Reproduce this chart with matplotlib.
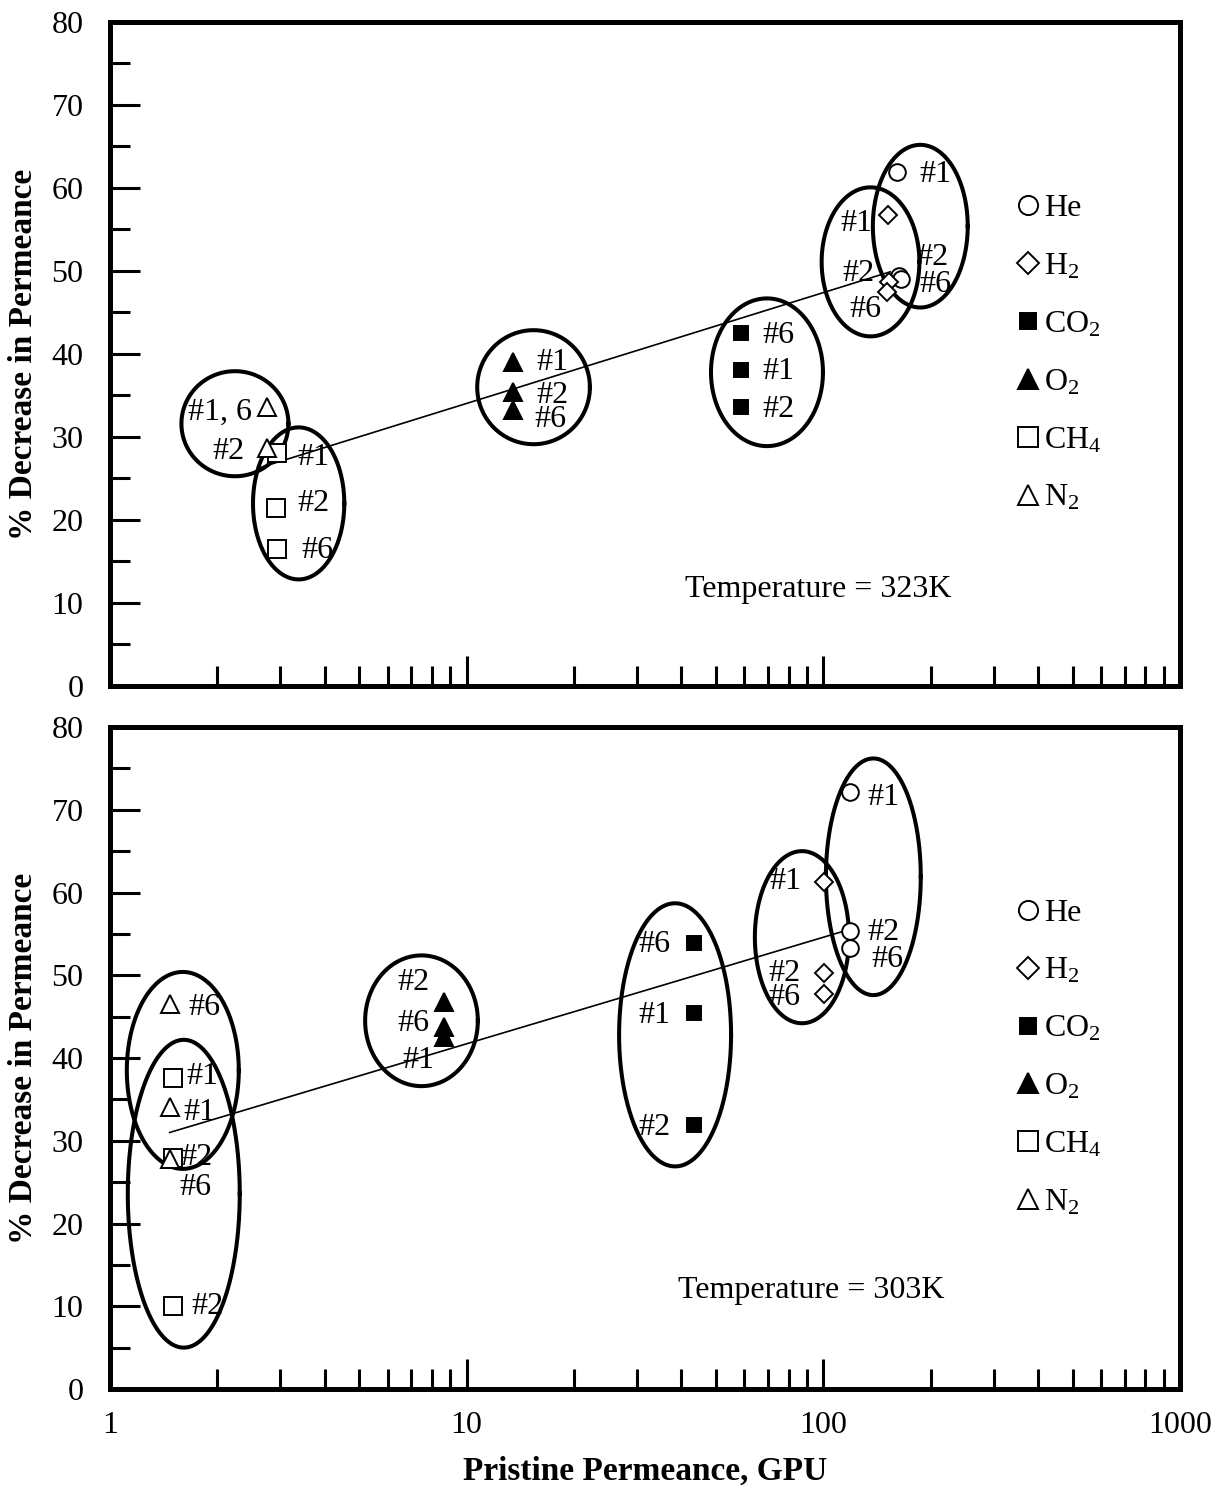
import numpy as np
import matplotlib.pyplot as plt
from matplotlib.ticker import MultipleLocator, LogLocator, FixedFormatter, FixedLocator, NullFormatter

plt.rcParams['font.family'] = ['Liberation Serif', 'DejaVu Serif']
plt.rcParams['mathtext.fontset'] = 'custom'
plt.rcParams['mathtext.rm'] = 'Liberation Serif'
plt.rcParams['mathtext.it'] = 'Liberation Serif:italic'
plt.rcParams['mathtext.bf'] = 'Liberation Serif:bold'

FS = 23

# ---- 323 K (top panel): pristine permeance (GPU) and % decrease ----
he_323_gpu = [161, 163, 165]
he_323_pct = [61.9, 49.4, 49.0]
he_323_ids = ['#1', '#2', '#6']
h2_323_gpu = [152, 153, 151]
h2_323_pct = [56.8, 48.7, 47.5]
h2_323_ids = ['#1', '#2', '#6']
co2_323_gpu = [58.7, 58.7, 58.7]
co2_323_pct = [42.5, 38.1, 33.6]
co2_323_ids = ['#6', '#1', '#2']
o2_323_gpu = [13.5, 13.5, 13.5]
o2_323_pct = [39.0, 35.4, 33.3]
o2_323_ids = ['#1', '#2', '#6']
ch4_323_gpu = [2.94, 2.92, 2.94]
ch4_323_pct = [28.1, 21.4, 16.5]
ch4_323_ids = ['#1', '#2', '#6']
n2_323_gpu = [2.75, 2.75]
n2_323_pct = [33.6, 28.7]
n2_323_ids = ['#1, 6', '#2']

trend_323_gpu = [2.63, 154]
trend_323_pct = [26.3, 49.9]

# ---- 303 K (bottom panel) ----
he_303_gpu = [118.8, 118.8, 118.8]
he_303_pct = [72.1, 55.3, 53.3]
he_303_ids = ['#1', '#2', '#6']
h2_303_gpu = [100.4, 100.4, 100.4]
h2_303_pct = [61.3, 50.3, 47.7]
h2_303_ids = ['#1', '#2', '#6']
co2_303_gpu = [43.4, 43.4, 43.4]
co2_303_pct = [53.9, 45.4, 31.9]
co2_303_ids = ['#6', '#1', '#2']
o2_303_gpu = [8.64, 8.64, 8.64]
o2_303_pct = [46.8, 43.8, 42.5]
o2_303_ids = ['#2', '#6', '#1']
ch4_303_gpu = [1.50, 1.50, 1.50]
ch4_303_pct = [37.6, 27.9, 10.0]
ch4_303_ids = ['#1', '#2', '#2']
n2_303_gpu = [1.47, 1.47, 1.47]
n2_303_pct = [46.5, 34.1, 27.8]
n2_303_ids = ['#6', '#1', '#6']

trend_303_gpu = [1.47, 113.5]
trend_303_pct = [31.0, 55.3]

# group ellipses: centre (GPU, %), half-width (decades), half-height (%)
ell_323_gpu = [2.24, 3.38, 15.4, 69.5, 135.6, 187]
ell_323_pct = [31.6, 22.0, 36.0, 37.8, 51.1, 55.4]
ell_323_hw = [0.150, 0.128, 0.158, 0.157, 0.137, 0.133]
ell_323_hh = [6.33, 9.16, 6.87, 8.9, 8.98, 9.8]
ell_303_gpu = [1.60, 1.61, 7.47, 38.4, 87.1, 138.1]
ell_303_pct = [38.5, 23.6, 44.5, 42.8, 54.6, 61.9]
ell_303_hw = [0.157, 0.157, 0.158, 0.157, 0.132, 0.133]
ell_303_hh = [11.9, 18.6, 7.9, 15.9, 10.4, 14.3]

# label offsets in pixels (right, up)
off_323 = {
    'He': [(38, -2), (33, 18), (35, -5)],
    'H2': [(-32, -9), (-31, 8), (-22, -18)],
    'CO2': [(38, -2), (38, -2), (38, -2)],
    'O2': [(39, 0), (39, -3), (37, -10)],
    'CH4': [(36, -5), (37, 5), (40, -1)],
    'N2': [(-47, -5), (-38, -4)],
}
off_303 = {
    'He': [(33, -5), (33, -1), (37, -12)],
    'H2': [(-39, 0), (-40, -1), (-40, -3)],
    'CO2': [(-40, -2), (-40, -2), (-40, -2)],
    'O2': [(-31, 19), (-31, 3), (-26, -23)],
    'CH4': [(30, 1), (24, 1), (35, 0)],
    'N2': [(35, -3), (30, -6), (26, -29)],
}

gas_names = ['He', 'H2', 'CO2', 'O2', 'CH4', 'N2']
gas_labels = ['He', 'H$_2$', 'CO$_2$', 'O$_2$', 'CH$_4$', 'N$_2$']
gas_style = {
    'He': dict(marker='o', ms=12, mfc='white'),
    'H2': dict(marker='D', ms=9.5, mfc='white'),
    'CO2': dict(marker='s', ms=10, mfc='black'),
    'O2': dict(marker='^', ms=13, mfc='black'),
    'CH4': dict(marker='s', ms=13, mfc='white'),
    'N2': dict(marker='^', ms=13, mfc='white'),
}

panel_323 = [(he_323_gpu, he_323_pct, he_323_ids), (h2_323_gpu, h2_323_pct, h2_323_ids),
             (co2_323_gpu, co2_323_pct, co2_323_ids), (o2_323_gpu, o2_323_pct, o2_323_ids),
             (ch4_323_gpu, ch4_323_pct, ch4_323_ids), (n2_323_gpu, n2_323_pct, n2_323_ids)]
panel_303 = [(he_303_gpu, he_303_pct, he_303_ids), (h2_303_gpu, h2_303_pct, h2_303_ids),
             (co2_303_gpu, co2_303_pct, co2_303_ids), (o2_303_gpu, o2_303_pct, o2_303_ids),
             (ch4_303_gpu, ch4_303_pct, ch4_303_ids), (n2_303_gpu, n2_303_pct, n2_303_ids)]

fig = plt.figure(figsize=(12.23, 14.87), dpi=100)
ax1 = fig.add_axes([0.08994, 0.53867, 0.87490, 0.44654])
ax2 = fig.add_axes([0.08994, 0.06590, 0.87490, 0.44519])


def draw_panel(ax, panel, offsets, trend_x, trend_y, ell, temp_text, temp_pos, show_x):
    ax.set_xscale('log')
    ax.set_xlim(1, 1000)
    ax.set_ylim(0, 80)

    # group ellipses, drawn in log-x space
    t = np.linspace(0, 2 * np.pi, 300)
    for cx, cy, hw, hh in zip(*ell):
        ax.plot(10 ** (np.log10(cx) + hw * np.cos(t)), cy + hh * np.sin(t),
                color='black', lw=2.9, zorder=2)

    ax.plot(trend_x, trend_y, color='black', lw=1.2, zorder=3)

    for name, lab, (gx, gy, ids) in zip(gas_names, gas_labels, panel):
        st = gas_style[name]
        ax.plot(gx, gy, ls='none', marker=st['marker'], ms=st['ms'],
                mfc=st['mfc'], mec='black', mew=1.4, label=lab, zorder=4)
        for xi, yi, idt, (dx, dy) in zip(gx, gy, ids, offsets[name]):
            ax.annotate(idt, (xi, yi), xytext=(dx * 0.72, dy * 0.72),
                        textcoords='offset points', ha='center', va='center',
                        fontsize=FS, zorder=5)

    ax.text(temp_pos[0], temp_pos[1], temp_text, transform=ax.transAxes,
            ha='center', va='center', fontsize=FS)

    ax.legend(loc='upper left', bbox_to_anchor=(0.8456, 0.741), frameon=False,
              fontsize=FS, handlelength=0.8, handletextpad=0.12, borderpad=0,
              borderaxespad=0, labelspacing=0.89, numpoints=1, markerscale=1.15)

    for s in ax.spines.values():
        s.set_linewidth(3.6)
    ax.yaxis.set_major_locator(MultipleLocator(10))
    ax.yaxis.set_minor_locator(MultipleLocator(5))
    ax.xaxis.set_major_locator(FixedLocator([1, 10, 100, 1000]))
    ax.xaxis.set_major_formatter(FixedFormatter(['1', '10', '100', '1000']))
    ax.xaxis.set_minor_locator(LogLocator(base=10, subs=np.arange(2, 10)))
    ax.xaxis.set_minor_formatter(NullFormatter())
    ax.tick_params(which='major', direction='in', length=21.6, width=2.2, labelsize=FS)
    ax.tick_params(which='minor', direction='in', length=14.4, width=2.2)
    ax.tick_params(axis='y', which='both', pad=19, right=False)
    ax.tick_params(axis='x', which='both', pad=16, top=False, labelbottom=show_x)
    ax.set_ylabel('% Decrease in Permeance', fontsize=24, fontweight='bold', labelpad=9)


draw_panel(ax1, panel_323, off_323, trend_323_gpu, trend_323_pct,
           (ell_323_gpu, ell_323_pct, ell_323_hw, ell_323_hh),
           'Temperature = 323K', (0.6617, 0.1446), False)
draw_panel(ax2, panel_303, off_303, trend_303_gpu, trend_303_pct,
           (ell_303_gpu, ell_303_pct, ell_303_hw, ell_303_hh),
           'Temperature = 303K', (0.655, 0.1495), True)
ax2.set_xlabel('Pristine Permeance, GPU', fontsize=24, fontweight='bold', labelpad=11)

fig.savefig('out.png', dpi=100)
